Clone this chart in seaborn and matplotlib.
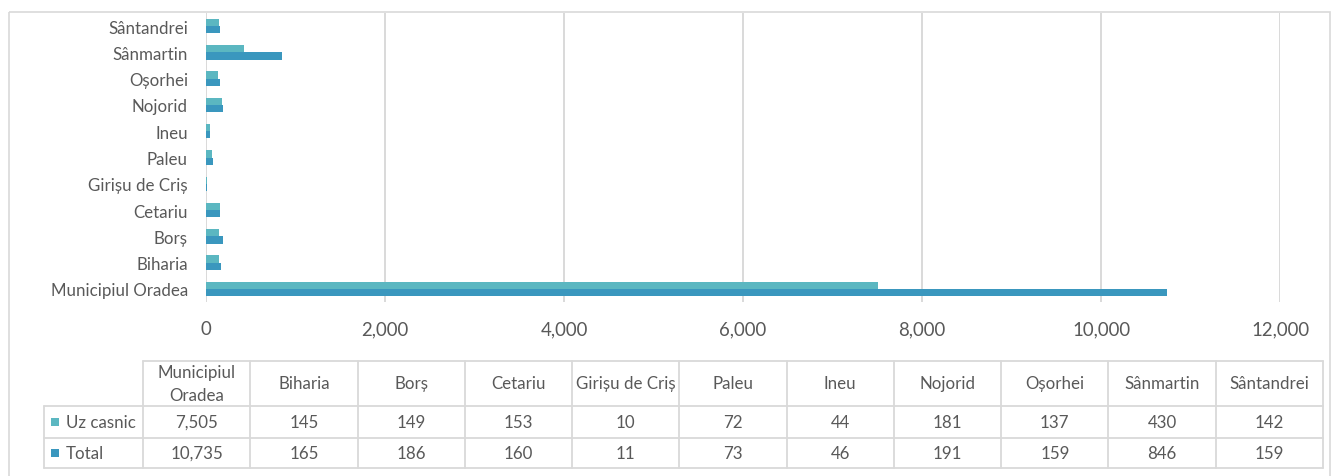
import matplotlib
matplotlib.use("Agg")
import matplotlib.pyplot as plt
import seaborn as sns
import pandas as pd
import textwrap
from matplotlib.lines import Line2D
from matplotlib.patches import Rectangle
from matplotlib.ticker import FuncFormatter

# Localities and consumption values per series
categories = ["Municipiul Oradea", "Biharia", "Borș", "Cetariu", "Girișu de Criș",
              "Paleu", "Ineu", "Nojorid", "Oșorhei", "Sânmartin", "Sântandrei"]
uz_casnic = [7505, 145, 149, 153, 10, 72, 44, 181, 137, 430, 142]
total = [10735, 165, 186, 160, 11, 73, 46, 191, 159, 846, 159]
series = ["Uz casnic", "Total"]
colors = ["#5BB7C1", "#3A97BE"]
x_ticks = [0, 2000, 4000, 6000, 8000, 10000, 12000]

TEXT = "#595959"
GRID = "#D9D9D9"

sns.set_theme(style="white")
plt.rcParams["font.family"] = ["Lato", "DejaVu Sans"]

W, H = 1333, 477
fig = plt.figure(figsize=(W / 100, H / 100), dpi=100)

# Background overlay in pixel coordinates for the frame and data table
ov = fig.add_axes([0, 0, 1, 1], zorder=0)
ov.set_xlim(0, W)
ov.set_ylim(H, 0)
ov.axis("off")

ax = fig.add_axes([206 / W, 1 - 303 / H, (1280 - 206) / W, (303 - 14) / H], zorder=1)
ax.patch.set_alpha(0)

n = len(categories)
df = pd.DataFrame({
    "Localitate": categories * 2,
    "Serie": [series[0]] * n + [series[1]] * n,
    "Valoare": uz_casnic + total,
})
sns.barplot(data=df, y="Localitate", x="Valoare", hue="Serie",
            order=categories[::-1], hue_order=series, palette=colors,
            orient="h", width=0.55, saturation=1, linewidth=0,
            legend=False, ax=ax, zorder=3)

ax.set_xlim(0, 12000)
ax.set_xticks(x_ticks)
ax.xaxis.set_major_formatter(FuncFormatter(lambda v, p: f"{int(v):,}"))
ax.grid(axis="x", color=GRID, linewidth=1.4, zorder=0)
ax.grid(axis="y", visible=False)
for s in ax.spines.values():
    s.set_visible(False)
ax.tick_params(axis="both", length=0)
ax.tick_params(axis="x", labelsize=13.4, labelcolor=TEXT, pad=13)
ax.tick_params(axis="y", labelsize=12.2, labelcolor=TEXT, pad=13)
ax.set_xlabel("")
ax.set_ylabel("")

# Outer frame
ov.add_patch(Rectangle((9, 13), 1321, 520, fill=False, edgecolor=GRID, linewidth=1.2))

# Data table beneath the chart
left_x, col_x0, col_x1 = 44, 143, 1323
rows_y = [362, 407, 439, 469]
col_w = (col_x1 - col_x0) / n
lw = 1.3

ov.add_line(Line2D([col_x0, col_x1], [rows_y[0]] * 2, color=GRID, lw=lw))
for y in rows_y[1:]:
    ov.add_line(Line2D([left_x, col_x1], [y, y], color=GRID, lw=lw))
ov.add_line(Line2D([left_x, left_x], [rows_y[1], rows_y[3]], color=GRID, lw=lw))
for i in range(n + 1):
    x = col_x0 + i * col_w
    ov.add_line(Line2D([x, x], [rows_y[0], rows_y[3]], color=GRID, lw=lw))

fs = 12.2
for i, cat in enumerate(categories):
    cx = col_x0 + (i + 0.5) * col_w
    ov.text(cx, (rows_y[0] + rows_y[1]) / 2, textwrap.fill(cat, 14),
            ha="center", va="center", fontsize=fs, color=TEXT, linespacing=1.5)
    for r, vals in enumerate([uz_casnic, total]):
        ov.text(cx, (rows_y[r + 1] + rows_y[r + 2]) / 2, f"{vals[i]:,}",
                ha="center", va="center", fontsize=fs, color=TEXT)

for r, (name, c) in enumerate(zip(series, colors)):
    cy = (rows_y[r + 1] + rows_y[r + 2]) / 2
    ov.add_patch(Rectangle((51, cy - 4), 7.5, 7.5, facecolor=c, edgecolor="none"))
    ov.text(66, cy, name, ha="left", va="center", fontsize=fs, color=TEXT)

fig.savefig("out.png", dpi=100)
